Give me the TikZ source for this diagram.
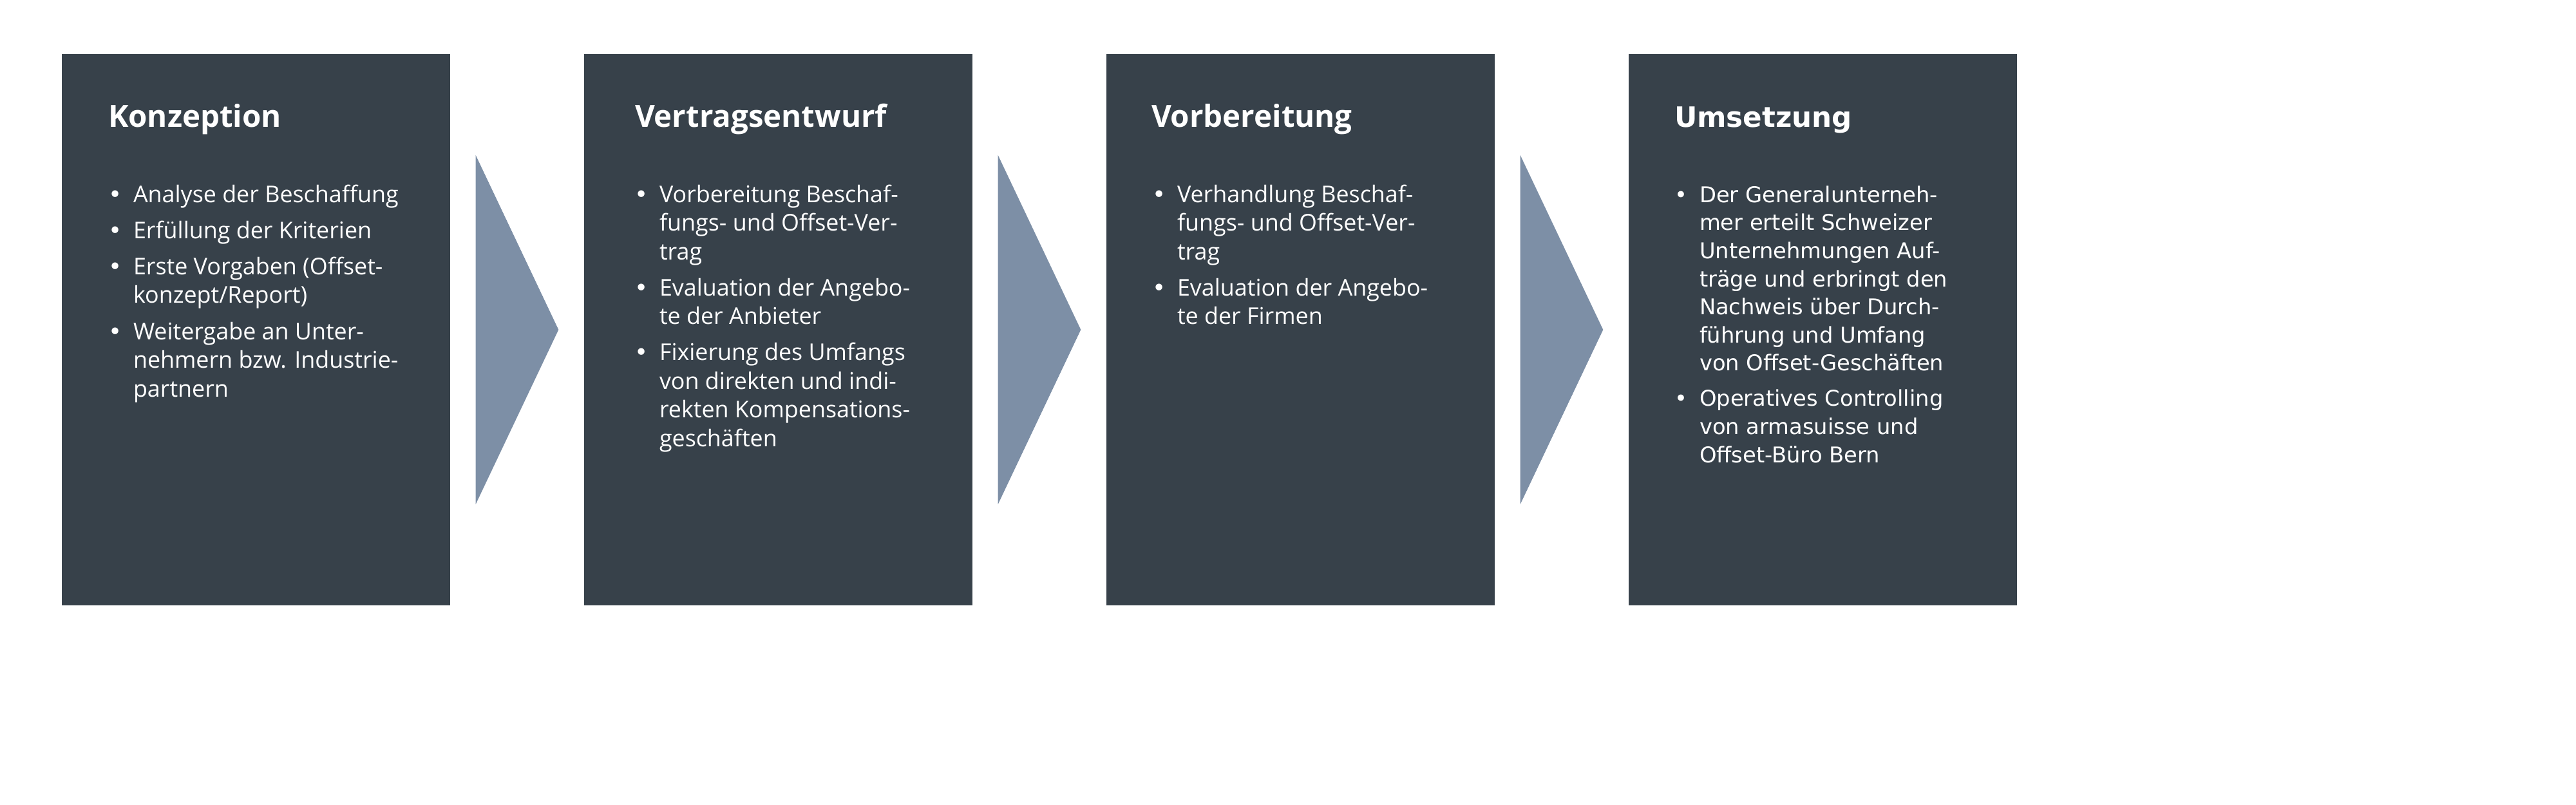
\documentclass[tikz,border=0pt]{standalone}
\usepackage{fontspec}
\setmainfont{Open Sans}
\newfontfamily\widefont{DejaVu Sans}
\usetikzlibrary{positioning,calc}
\definecolor{boxslate}{RGB}{55,65,74}
\definecolor{chevblue}{RGB}{125,143,166}
\newcommand{\bul}{\makebox[0.39cm][l]{\widefont\textbullet}}

\begin{document}
\begin{tikzpicture}[
    phase/.style={rectangle, fill=boxslate, minimum width=6.03cm, minimum height=8.56cm, inner sep=0pt},
    phasetitle/.style={anchor=base west, inner sep=0pt, text=white, font=\fontsize{13.5}{16}\selectfont\bfseries},
    phasebody/.style={anchor=base west, inner sep=0pt, text=white, font=\fontsize{10.2}{12.66}\selectfont},
    widetitle/.style={phasetitle, font=\widefont\fontsize{12.4}{16}\selectfont\bfseries},
    widebody/.style={phasebody, font=\widefont\fontsize{9.6}{12.4}\selectfont},
    chevron/.style={fill=chevblue}
]
\useasboundingbox (0,0) rectangle (40,-12.5);

% Phase boxes
\node[phase] (konz) at (3.975, -5.12) {};
\node[phase] (vert) at (12.085, -5.12) {};
\node[phase] (vorb) at (20.195, -5.12) {};
\node[phase] (umse) at (28.305, -5.12) {};

% Chevrons between phases
\fill[chevron] ($(konz.east)+(0.39,2.71)$) -- ($(vert.west)+(-0.39,0)$) -- ($(konz.east)+(0.39,-2.71)$) -- cycle;
\fill[chevron] ($(vert.east)+(0.39,2.71)$) -- ($(vorb.west)+(-0.39,0)$) -- ($(vert.east)+(0.39,-2.71)$) -- cycle;
\fill[chevron] ($(vorb.east)+(0.39,2.71)$) -- ($(umse.west)+(-0.39,0)$) -- ($(vorb.east)+(0.39,-2.71)$) -- cycle;

% Konzeption
\node[phasetitle] (konzT) at ($(konz.north west)+(0.72,-1.14)$) {Konzeption};
\node[phasebody] (konzB) at ($(konz.north west)+(0.72,-2.31)$) {\begin{tabular}[t]{@{}l@{}l@{}}
\bul & Analyse der Beschaffung\\[3.3pt]
\bul & Erfüllung der Kriterien\\[3.3pt]
\bul & Erste Vorgaben (Offset-\\
     & konzept/Report)\\[3.3pt]
\bul & Weitergabe an Unter-\\
     & nehmern bzw. Industrie-\\
     & partnern
\end{tabular}};

% Vertragsentwurf
\node[phasetitle] (vertT) at ($(vert.north west)+(0.79,-1.14)$) {Vertragsentwurf};
\node[phasebody] (vertB) at ($(vert.north west)+(0.78,-2.31)$) {\begin{tabular}[t]{@{}l@{}l@{}}
\bul & Vorbereitung Beschaf-\\
     & fungs- und Offset-Ver-\\
     & trag\\[3.3pt]
\bul & Evaluation der Angebo-\\
     & te der Anbieter\\[3.3pt]
\bul & Fixierung des Umfangs\\
     & von direkten und indi-\\
     & rekten Kompensations-\\
     & geschäften
\end{tabular}};

% Vorbereitung
\node[phasetitle] (vorbT) at ($(vorb.north west)+(0.70,-1.14)$) {Vorbereitung};
\node[phasebody] (vorbB) at ($(vorb.north west)+(0.71,-2.31)$) {\begin{tabular}[t]{@{}l@{}l@{}}
\bul & Verhandlung Beschaf-\\
     & fungs- und Offset-Ver-\\
     & trag\\[3.3pt]
\bul & Evaluation der Angebo-\\
     & te der Firmen
\end{tabular}};

% Umsetzung
\node[widetitle] (umseT) at ($(umse.north west)+(0.71,-1.14)$) {Umsetzung};
\node[widebody] (umseB) at ($(umse.north west)+(0.71,-2.31)$) {\begin{tabular}[t]{@{}l@{}l@{}}
\bul & Der Generalunterneh-\\
     & mer erteilt Schweizer\\
     & Unternehmungen Auf-\\
     & träge und erbringt den\\
     & Nachweis über Durch-\\
     & führung und Umfang\\
     & von Offset-Geschäften\\[3.3pt]
\bul & Operatives Controlling\\
     & von armasuisse und\\
     & Offset-Büro Bern
\end{tabular}};

\end{tikzpicture}
\end{document}
